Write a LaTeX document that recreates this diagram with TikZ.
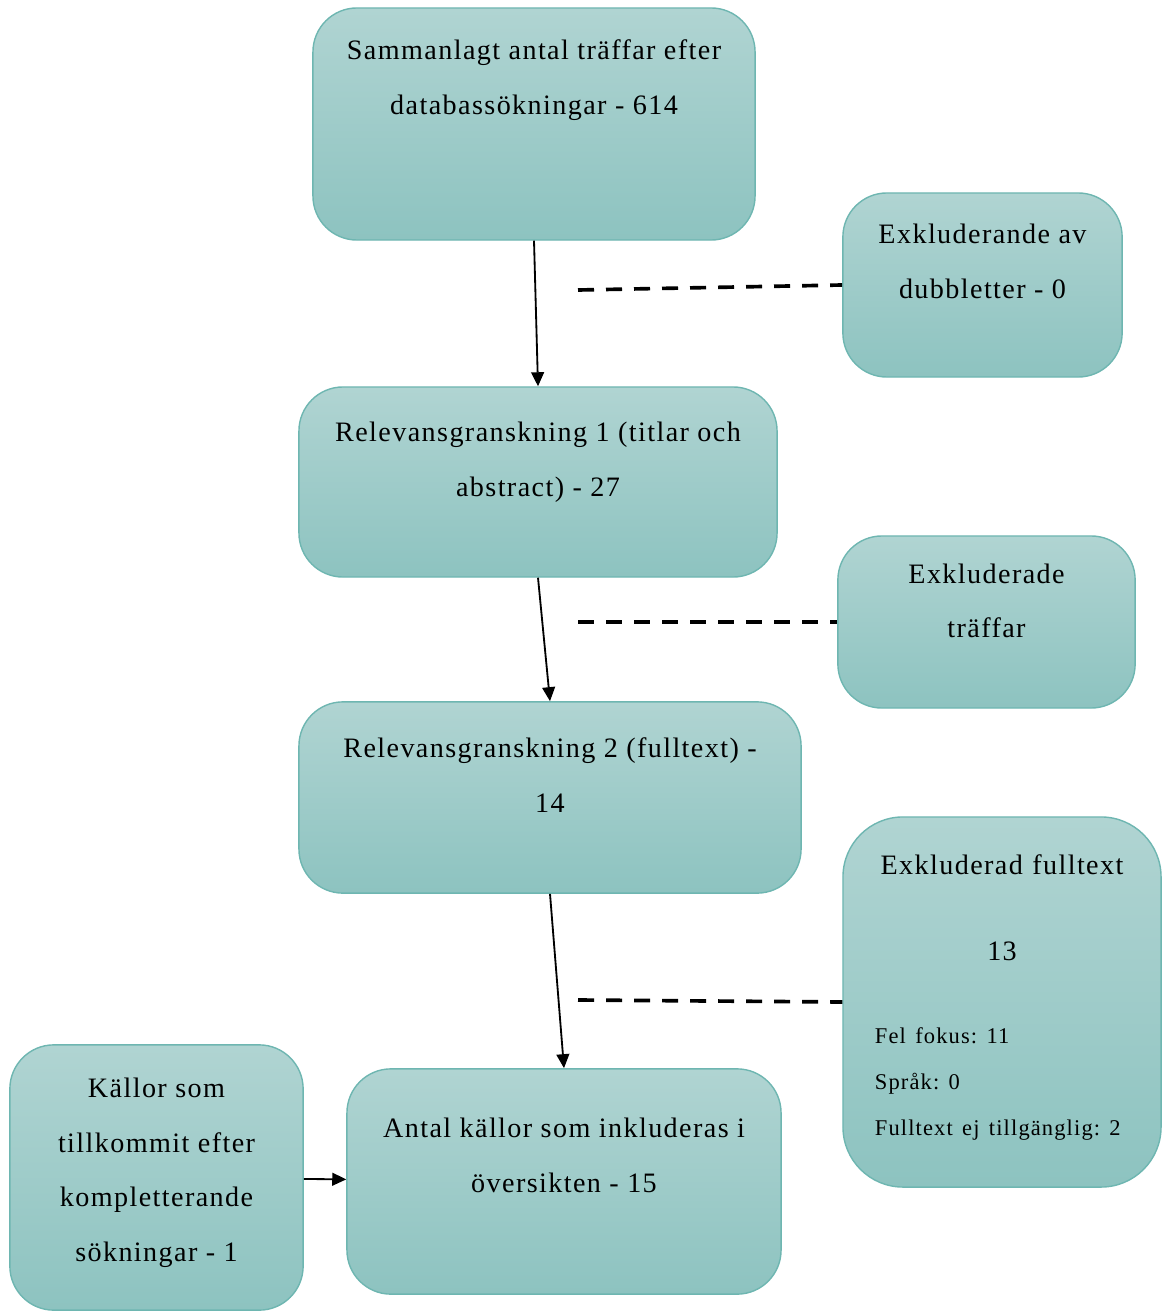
\documentclass[tikz,border=0pt]{standalone}
\usepackage{color}
\usepackage{fontspec}
\setmainfont{Liberation Serif}[LetterSpace=5]
\usepackage{tikz}
\usetikzlibrary{arrows.meta}
\usetikzlibrary{positioning}
\definecolor{tealtop}{RGB}{176,212,210}
\definecolor{tealbot}{RGB}{141,195,192}
\definecolor{tealline}{RGB}{110,182,177}
\frenchspacing

\begin{document}
\begin{tikzpicture}[x=0.025cm, y=-0.025cm,
  box/.style={draw=tealline, line width=1pt, rounded corners=1.1cm,
              top color=tealtop, bottom color=tealbot, inner sep=0pt},
  txt/.style={align=center, inner sep=0pt, font=\fontsize{20}{39}\selectfont},
  arr/.style={-{Triangle[width=0.32cm,length=0.35cm]}, line width=1.3pt},
  gap/.style={dash pattern=on 0.4cm off 0.3cm, line width=2.6pt}]
 \useasboundingbox (0,0) rectangle (1163,1312);
 \node[box, minimum width=11.05cm, minimum height=5.8cm]  (sum)   at (534,124) {};
 \node[box, minimum width=6.98cm,  minimum height=4.6cm]  (dup)   at (982.5,285) {};
 \node[box, minimum width=11.95cm, minimum height=4.75cm] (rel1)  at (538,482) {};
 \node[box, minimum width=7.43cm,  minimum height=4.3cm]  (exhit) at (986.5,622) {};
 \node[box, minimum width=12.55cm, minimum height=4.78cm] (rel2)  at (550,797.5) {};
 \node[box, minimum width=7.95cm,  minimum height=9.25cm,
       rounded corners=1.5cm]                             (exful) at (1002,1002) {};
 \node[box, minimum width=7.33cm,  minimum height=6.63cm] (extra) at (156.5,1177.5) {};
 \node[box, minimum width=10.85cm, minimum height=5.63cm] (incl)  at (564,1181.5) {};

 \node[txt, below=0.8cm of sum.north]    (sumtxt)   {Sammanlagt antal träffar efter\\ databassökningar - 614};
 \node[txt, below=0.78cm of dup.north]   (duptxt)   {Exkluderande av\\ dubbletter - 0};
 \node[txt, below=0.88cm of rel1.north]  (rel1txt)  {Relevansgranskning 1 (titlar och\\ abstract) - 27};
 \node[txt, below=0.7cm of exhit.north]  (exhittxt) {Exkluderade\\ träffar};
 \node[txt, below=0.9cm of rel2.north]   (rel2txt)  {Relevansgranskning 2 (fulltext) -\\ 14};
 \node[txt, text width=6.35cm, align=left,
       below=0.95cm of exful.north]      (exfultxt)
   {{\centering Exkluderad fulltext\\[22pt] 13\par}\vspace{26pt}
    {\fontsize{16}{33}\selectfont Fel fokus: 11\\ Språk: 0\\ Fulltext ej tillgänglig: 2\par}};
 \node[txt, below=0.83cm of extra.north] (extratxt) {Källor som\\ tillkommit efter\\ kompletterande\\ sökningar - 1};
 \node[txt, below=1.23cm of incl.north]  (incltxt)  {Antal källor som inkluderas i\\ översikten - 15};

 \draw[arr] (sum.south) -- (rel1.north);
 \draw[arr] (rel1.south) -- (rel2.north);
 \draw[arr] (rel2.south) -- (incl.north);
 \draw[arr] (extra) -- (incl);

 \coordinate (d1) at (578,290);
 \coordinate (d2) at (578,622);
 \coordinate (d3) at (578,1000);
 \draw[gap] (d1) -- (dup.west);
 \draw[gap] (d2) -- (exhit.west);
 \draw[gap] (d3) -- (exful.west);
\end{tikzpicture}
\end{document}
